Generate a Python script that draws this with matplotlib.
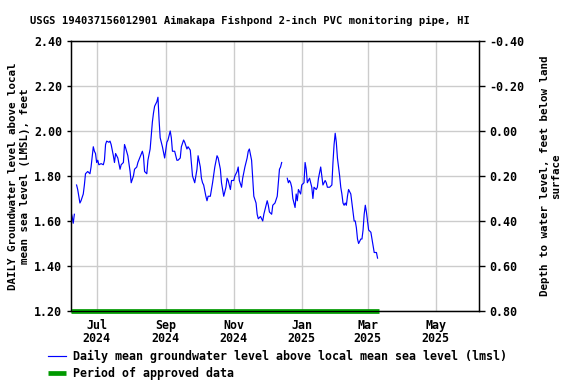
"""USGS groundwater level chart for Aimakapa Fishpond monitoring pipe."""

import matplotlib
matplotlib.use("Agg")
import matplotlib.pyplot as plt
import matplotlib.dates as mdates
import numpy as np
import pandas as pd

# segments of daily mean level (ft above LMSL), gaps between them
seg1_dates = ["2024-06-08", "2024-06-09", "2024-06-10", "2024-06-11"]
seg1_vals = [1.64, 1.62, 1.59, 1.63]

seg2_dates = [
    "2024-06-13", "2024-06-14", "2024-06-16", "2024-06-17", "2024-06-19", "2024-06-20",
    "2024-06-21", "2024-06-23", "2024-06-25", "2024-06-26", "2024-06-28", "2024-06-29",
    "2024-06-30", "2024-07-01", "2024-07-02", "2024-07-03", "2024-07-05", "2024-07-07",
    "2024-07-08", "2024-07-09", "2024-07-10", "2024-07-12", "2024-07-13", "2024-07-14",
    "2024-07-16", "2024-07-17", "2024-07-18", "2024-07-20", "2024-07-22", "2024-07-23",
    "2024-07-25", "2024-07-26", "2024-07-27", "2024-07-29", "2024-07-31", "2024-08-01",
    "2024-08-03", "2024-08-04", "2024-08-06", "2024-08-07", "2024-08-11", "2024-08-12",
    "2024-08-13", "2024-08-15", "2024-08-16", "2024-08-18", "2024-08-20", "2024-08-21",
    "2024-08-22", "2024-08-24", "2024-08-25", "2024-08-26", "2024-08-27", "2024-08-28",
    "2024-08-29", "2024-08-31", "2024-09-02", "2024-09-03", "2024-09-05", "2024-09-06",
    "2024-09-07", "2024-09-09", "2024-09-11", "2024-09-12", "2024-09-14", "2024-09-15",
    "2024-09-17", "2024-09-18", "2024-09-20", "2024-09-21", "2024-09-23", "2024-09-24",
    "2024-09-25", "2024-09-27", "2024-09-29", "2024-09-30", "2024-10-02", "2024-10-03",
    "2024-10-04", "2024-10-05", "2024-10-07", "2024-10-08", "2024-10-09", "2024-10-11",
    "2024-10-12", "2024-10-13", "2024-10-15", "2024-10-17", "2024-10-18", "2024-10-20",
    "2024-10-21", "2024-10-22", "2024-10-23", "2024-10-25", "2024-10-26", "2024-10-27",
    "2024-10-29", "2024-10-30", "2024-11-01", "2024-11-02", "2024-11-04", "2024-11-05",
    "2024-11-06", "2024-11-08", "2024-11-09", "2024-11-11", "2024-11-13", "2024-11-14",
    "2024-11-15", "2024-11-17", "2024-11-18", "2024-11-19", "2024-11-21", "2024-11-22",
    "2024-11-23", "2024-11-25", "2024-11-27", "2024-11-28", "2024-11-30", "2024-12-01",
    "2024-12-02", "2024-12-03", "2024-12-05", "2024-12-06", "2024-12-08", "2024-12-10",
    "2024-12-11", "2024-12-12", "2024-12-13", "2024-12-14",
]
seg2_vals = [
    1.76, 1.74, 1.68, 1.69, 1.72, 1.76,
    1.81, 1.82, 1.81, 1.84, 1.93, 1.91,
    1.90, 1.86, 1.87, 1.85, 1.855, 1.85,
    1.87, 1.94, 1.955, 1.95, 1.955, 1.94,
    1.89, 1.86, 1.90, 1.88, 1.83, 1.85,
    1.86, 1.94, 1.925, 1.89, 1.82, 1.77,
    1.80, 1.83, 1.84, 1.86, 1.91, 1.89,
    1.82, 1.81, 1.87, 1.92, 2.04, 2.08,
    2.11, 2.13, 2.15, 2.05, 1.97, 1.95,
    1.93, 1.88, 1.95, 1.96, 2.00, 1.97,
    1.91, 1.91, 1.87, 1.87, 1.88, 1.93,
    1.96, 1.95, 1.92, 1.93, 1.915, 1.86,
    1.80, 1.77, 1.83, 1.89, 1.84, 1.79,
    1.77, 1.76, 1.71, 1.69, 1.71, 1.71,
    1.74, 1.77, 1.84, 1.89, 1.88, 1.83,
    1.77, 1.74, 1.71, 1.75, 1.79, 1.78,
    1.74, 1.78, 1.78, 1.80, 1.82, 1.84,
    1.78, 1.75, 1.79, 1.84, 1.88, 1.91,
    1.92, 1.87, 1.79, 1.71, 1.68, 1.63,
    1.61, 1.62, 1.60, 1.63, 1.67, 1.69,
    1.67, 1.64, 1.63, 1.67, 1.68, 1.71,
    1.77, 1.83, 1.84, 1.86,
]

seg3_dates = [
    "2024-12-19", "2024-12-20", "2024-12-21", "2024-12-22", "2024-12-23", "2024-12-24",
    "2024-12-26", "2024-12-27", "2024-12-28", "2024-12-29", "2024-12-31", "2025-01-01",
    "2025-01-03", "2025-01-04", "2025-01-05", "2025-01-06", "2025-01-08", "2025-01-10",
    "2025-01-11", "2025-01-12", "2025-01-14", "2025-01-15", "2025-01-16", "2025-01-18",
    "2025-01-19", "2025-01-20", "2025-01-22", "2025-01-23", "2025-01-24", "2025-01-26",
    "2025-01-28", "2025-01-29", "2025-01-30", "2025-01-31", "2025-02-01", "2025-02-02",
    "2025-02-03", "2025-02-04", "2025-02-05", "2025-02-06", "2025-02-07", "2025-02-08",
    "2025-02-09", "2025-02-10", "2025-02-11", "2025-02-12", "2025-02-14", "2025-02-15",
    "2025-02-16", "2025-02-17", "2025-02-18", "2025-02-19", "2025-02-20", "2025-02-21",
    "2025-02-23", "2025-02-24", "2025-02-25", "2025-02-26", "2025-02-27", "2025-02-28",
    "2025-03-01", "2025-03-02", "2025-03-04", "2025-03-05", "2025-03-06", "2025-03-07",
    "2025-03-09", "2025-03-10",
]
seg3_vals = [
    1.79, 1.77, 1.78, 1.77, 1.75, 1.70,
    1.66, 1.72, 1.69, 1.74, 1.72, 1.76,
    1.77, 1.86, 1.83, 1.77, 1.79, 1.75,
    1.70, 1.75, 1.74, 1.75, 1.79, 1.84,
    1.80, 1.76, 1.78, 1.77, 1.75, 1.75,
    1.76, 1.86, 1.94, 1.99, 1.95, 1.88,
    1.84, 1.80, 1.75, 1.72, 1.68, 1.67,
    1.68, 1.67, 1.71, 1.74, 1.72, 1.68,
    1.64, 1.60, 1.60, 1.57, 1.52, 1.50,
    1.52, 1.52, 1.56, 1.63, 1.67, 1.64,
    1.60, 1.56, 1.55, 1.52, 1.49, 1.46,
    1.46, 1.435,
]

approved_start = "2024-06-08"
approved_end = "2025-03-11"

x_start = "2024-06-08"
x_end = "2025-06-09"
y_ticks = [1.20, 1.40, 1.60, 1.80, 2.00, 2.20, 2.40]
land_datum = 2.00  # depth = land_datum - level

FONT = "DejaVu Sans Mono"
FS = 8.4
TITLE_FS = 7.6


def build_series():
    parts = []
    for d, v in [(seg1_dates, seg1_vals), (seg2_dates, seg2_vals), (seg3_dates, seg3_vals)]:
        s = pd.Series(v, index=pd.to_datetime(d))
        parts.append(s)
        # NaN after each segment breaks the line
        parts.append(pd.Series([np.nan], index=[s.index[-1] + pd.Timedelta(hours=12)]))
    return pd.concat(parts)


def main() -> None:
    plt.rcParams["font.family"] = FONT
    plt.rcParams["font.weight"] = "bold"
    plt.rcParams["font.size"] = FS

    fig = plt.figure(figsize=(5.76, 3.84), dpi=100)
    ax = fig.add_axes([71 / 576, 1 - 311 / 384, 408 / 576, 270 / 384])

    series = build_series()
    ax.plot(series.index, series.values, color="#0000ff", lw=0.85,
            label="Daily mean groundwater level above local mean sea level (lmsl)")
    ax.plot(pd.to_datetime([approved_start, approved_end]), [1.20, 1.20],
            color="#009900", lw=3.4, solid_capstyle="butt", clip_on=False,
            label="Period of approved data", zorder=5)

    ax.set_xlim(pd.Timestamp(x_start), pd.Timestamp(x_end))
    ax.set_ylim(1.20, 2.40)
    ax.set_yticks(y_ticks)
    ax.yaxis.set_major_formatter(plt.FormatStrFormatter("%.2f"))
    ax.xaxis.set_major_locator(mdates.MonthLocator(bymonth=[1, 3, 5, 7, 9, 11]))
    ax.xaxis.set_major_formatter(mdates.DateFormatter("%b\n%Y"))
    ax.grid(True, color="#cccccc", lw=1.0)
    ax.set_axisbelow(True)
    ax.tick_params(axis="both", direction="out", length=3, width=1, labelsize=FS)
    ax.tick_params(axis="x", length=0, pad=6)
    for lab in ax.get_xticklabels():
        lab.set_linespacing(1.0)
    for sp in ax.spines.values():
        sp.set_linewidth(1.0)

    fig.text(250 / 576, 1 - 21 / 384,
             "USGS 194037156012901 Aimakapa Fishpond 2-inch PVC monitoring pipe, HI",
             ha="center", va="center", fontsize=TITLE_FS, fontweight="bold")
    ax.set_ylabel("DAILY Groundwater level above local\nmean sea level (LMSL), feet",
                  fontsize=TITLE_FS + 0.2, fontweight="bold", labelpad=3)

    ax2 = ax.twinx()
    ax2.set_ylim(land_datum - 1.20, land_datum - 2.40)
    ax2.set_yticks([land_datum - v for v in y_ticks])
    ax2.yaxis.set_major_formatter(plt.FormatStrFormatter("%.2f"))
    ax2.tick_params(axis="y", direction="out", length=4, width=1, labelsize=FS)
    ax2.set_ylabel("Depth to water level, feet below land\nsurface",
                   fontsize=TITLE_FS + 0.2, fontweight="bold", rotation=90, labelpad=11)

    fig.legend(loc="upper left", bbox_to_anchor=(43 / 576, 1 - 345 / 384),
               frameon=False, fontsize=FS, handlelength=1.6, handletextpad=0.55,
               labelspacing=0.38, borderaxespad=0)

    fig.savefig("out.png", dpi=100)


if __name__ == "__main__":
    main()
